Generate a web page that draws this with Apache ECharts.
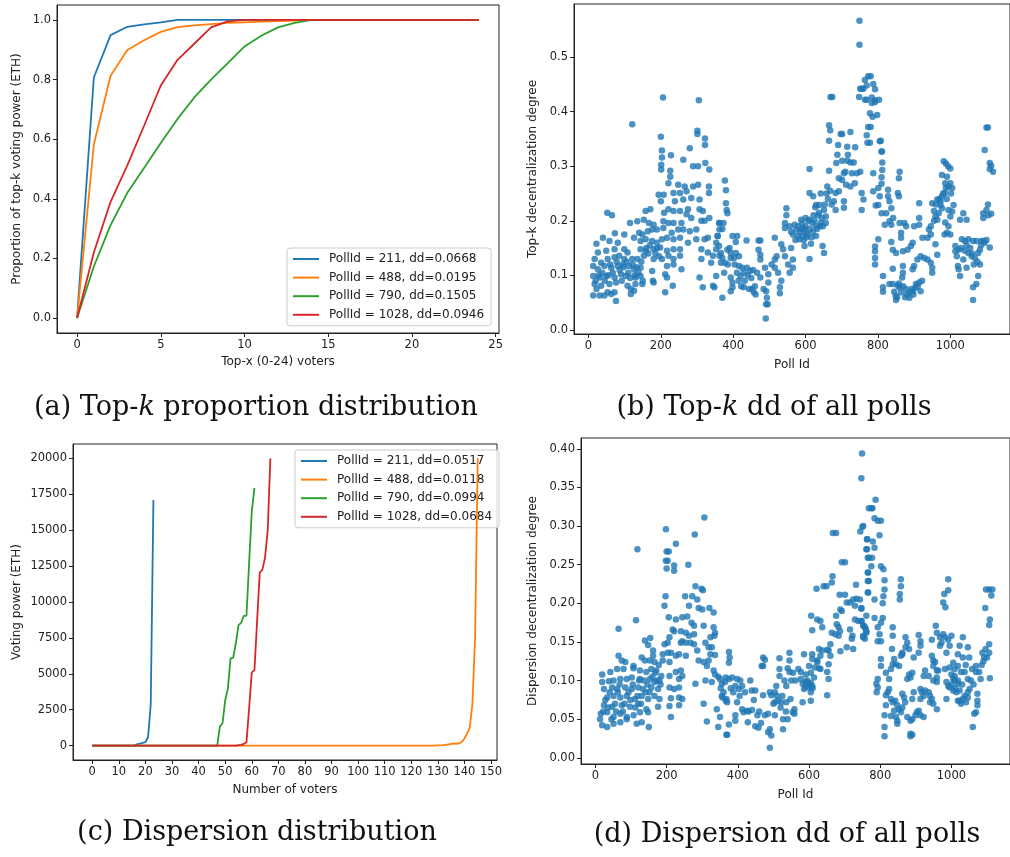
<!DOCTYPE html>
<html>
<head>
<meta charset="utf-8">
<script src="https://cdn.jsdelivr.net/npm/echarts@6/dist/echarts.min.js"></script>
<style>
  html, body { margin: 0; padding: 0; background: #fff; }
  #main { width: 1010px; height: 857px; }
</style>
</head>
<body>
<div id="main"></div>
<script>
const FONT = 'DejaVu Sans';
const COLORS = ['#1f77b4', '#ff7f0e', '#2ca02c', '#d62728'];

// (a) top-k cumulative proportion, x = 0..24
const topX = [0, 1, 2, 3, 4, 5, 6, 7, 8, 9, 10, 11, 12, 13, 14, 15, 16, 17, 18, 19, 20, 21, 22, 23, 24];
const topkBlue = [0, 0.807, 0.949, 0.977, 0.985, 0.992, 1, 1, 1, 1, 1, 1, 1, 1, 1, 1, 1, 1, 1, 1, 1, 1, 1, 1, 1];
const topkOrange = [0, 0.582, 0.813, 0.899, 0.932, 0.96, 0.976, 0.982, 0.986, 0.99, 0.992, 0.994, 0.996, 0.998, 1, 1, 1, 1, 1, 1, 1, 1, 1, 1, 1];
const topkGreen = [0, 0.173, 0.312, 0.42, 0.503, 0.587, 0.668, 0.74, 0.8, 0.855, 0.911, 0.947, 0.975, 0.99, 1, 1, 1, 1, 1, 1, 1, 1, 1, 1, 1];
const topkRed = [0, 0.22, 0.39, 0.512, 0.645, 0.78, 0.866, 0.92, 0.975, 0.995, 1, 1, 1, 1, 1, 1, 1, 1, 1, 1, 1, 1, 1, 1, 1];
const legendA = ['PollId = 211, dd=0.0668', 'PollId = 488, dd=0.0195', 'PollId = 790, dd=0.1505', 'PollId = 1028, dd=0.0946'];

// (c) sorted voting power, [voter index, ETH]
const dispBlue = [[0, 0], [16, 0], [17, 110], [18, 140], [19, 200], [20, 240], [21, 600], [22, 2900], [23, 17100]];
const dispOrange = [[0, 0], [128, 0], [132, 30], [134, 80], [135, 130], [138, 150], [139, 250], [140, 500], [141, 850], [142, 1250], [143, 2900], [144, 7500], [145, 20000]];
const dispGreen = [[0, 0], [47, 0], [48, 1330], [49, 1560], [50, 3150], [51, 3960], [52, 6060], [53, 6130], [54, 7110], [55, 8390], [56, 8550], [57, 9040], [58, 9040], [59, 12700], [60, 16300], [61, 17950]];
const dispRed = [[0, 0], [54, 0], [56, 50], [57, 120], [58, 230], [59, 2600], [60, 5100], [61, 5250], [62, 8650], [63, 12050], [64, 12250], [65, 13100], [66, 15000], [67, 20000]];
const legendC = ['PollId = 211, dd=0.0517', 'PollId = 488, dd=0.0118', 'PollId = 790, dd=0.0994', 'PollId = 1028, dd=0.0684'];

// (b) top-k dd per poll, [poll id, dd]
const topkPts = [
[206,0.426],[305,0.421],[121,0.377],[200,0.354],[301,0.365],[301,0.359],[322,0.351],[322,0.339],[280,0.333],[203,0.329],[203,0.316],[228,0.32],[262,0.312],[201,0.303],[201,0.294],[289,0.30],[303,0.30],[323,0.306],[226,0.292],[226,0.281],[334,0.294],[221,0.269],[248,0.266],[266,0.263],[289,0.263],[303,0.266],[333,0.263],[333,0.251],[194,0.248],[208,0.248],[200,0.236],[235,0.251],[253,0.251],[271,0.254],[284,0.242],[307,0.239],[239,0.236],[262,0.239],[52,0.215],[65,0.21],[158,0.218],[171,0.221],[209,0.215],[221,0.221],[235,0.218],[253,0.218],[275,0.221],[271,0.212],[307,0.221],[316,0.218],[334,0.205],[321,0.2],[312,0.2],[115,0.196],[135,0.199],[153,0.202],[167,0.196],[180,0.193],[207,0.199],[221,0.196],[235,0.196],[257,0.196],[284,0.205],[362,0.196],[362,0.184],[357,0.172],[353,0.16],[353,0.148],[362,0.136],[366,0.123],[73,0.177],[99,0.175],[140,0.178],[149,0.175],[164,0.181],[176,0.184],[189,0.184],[207,0.187],[230,0.178],[248,0.184],[262,0.184],[280,0.181],[298,0.184],[22,0.158],[40,0.169],[58,0.163],[81,0.16],[126,0.169],[144,0.163],[158,0.166],[176,0.163],[189,0.16],[203,0.166],[217,0.169],[235,0.166],[253,0.169],[275,0.16],[298,0.166],[321,0.166],[330,0.169],[26,0.142],[49,0.145],[72,0.148],[99,0.148],[108,0.142],[144,0.148],[158,0.145],[180,0.148],[198,0.151],[217,0.145],[235,0.148],[253,0.148],[312,0.148],[330,0.142],[344,0.136],[17,0.13],[35,0.123],[53,0.13],[72,0.133],[85,0.136],[99,0.13],[121,0.13],[135,0.13],[153,0.136],[180,0.13],[203,0.13],[221,0.136],[235,0.13],[253,0.136],[312,0.13],[339,0.123],[13,0.117],[26,0.111],[44,0.117],[63,0.114],[81,0.117],[94,0.12],[112,0.117],[126,0.111],[144,0.114],[176,0.108],[217,0.117],[235,0.12],[257,0.111],[13,0.099],[31,0.096],[49,0.099],[72,0.096],[90,0.102],[103,0.099],[130,0.096],[144,0.099],[178,0.09],[212,0.102],[217,0.096],[307,0.096],[353,0.099],[17,0.084],[35,0.081],[58,0.084],[76,0.087],[108,0.081],[130,0.084],[149,0.084],[180,0.087],[233,0.081],[22,0.075],[53,0.069],[72,0.069],[117,0.075],[126,0.072],[316,0.078],[344,0.081],[348,0.078],[13,0.063],[31,0.063],[44,0.063],[63,0.066],[117,0.066],[212,0.069],[76,0.053],
[20,0.09],[28,0.1],[38,0.105],[45,0.09],[55,0.1],[60,0.12],[67,0.105],[78,0.125],[86,0.11],[92,0.09],[97,0.115],[105,0.125],[110,0.105],[115,0.095],[122,0.12],[128,0.1],[133,0.115],[138,0.105],[146,0.125],[150,0.09],[160,0.15],[165,0.14],[170,0.155],[185,0.14],[190,0.15],[195,0.135],
[749,0.567],[749,0.523],[669,0.427],[674,0.427],[751,0.442],[760,0.442],[748,0.427],[764,0.422],[377,0.274],[380,0.256],[380,0.232],[382,0.22],[384,0.214],[361,0.196],[373,0.196],[370,0.185],[357,0.172],[361,0.154],[366,0.141],[370,0.132],[377,0.123],[375,0.105],[398,0.172],[411,0.172],[407,0.161],[437,0.164],[384,0.147],[393,0.141],[407,0.141],[416,0.135],[393,0.132],[402,0.132],[416,0.117],[425,0.114],[438,0.114],[447,0.108],[420,0.099],[429,0.105],[393,0.096],[398,0.087],[398,0.078],[393,0.071],[370,0.059],[429,0.078],[452,0.075],[457,0.069],[466,0.105],[475,0.096],[470,0.164],[475,0.164],[470,0.147],[475,0.138],[475,0.129],[484,0.075],[491,0.071],[493,0.059],[491,0.047],[495,0.047],[490,0.021],[488,0.114],[497,0.102],[497,0.087],[506,0.12],[515,0.129],[520,0.135],[515,0.114],[524,0.105],[533,0.09],[529,0.078],[529,0.067],[515,0.169],[533,0.157],[538,0.148],[543,0.135],[552,0.12],[556,0.105],[543,0.196],[543,0.187],[547,0.223],[547,0.21],[565,0.129],[565,0.114],[570,0.193],[574,0.184],[579,0.172],[583,0.166],[592,0.172],[601,0.178],[588,0.202],[600,0.205],[610,0.202],[619,0.196],[629,0.19],[642,0.196],[597,0.154],[615,0.158],[629,0.172],[647,0.154],[651,0.141],[611,0.13],[611,0.295],[611,0.251],[621,0.245],[629,0.229],[638,0.229],[642,0.25],[651,0.22],[656,0.208],[656,0.196],[660,0.263],[665,0.292],[665,0.375],[668,0.366],[665,0.347],[678,0.236],[683,0.251],[692,0.254],[706,0.236],[706,0.224],[683,0.22],[688,0.321],[685,0.306],[692,0.278],[701,0.275],[712,0.266],[724,0.263],[736,0.269],[697,0.359],[701,0.359],[690,0.339],[715,0.336],[717,0.321],[737,0.335],[701,0.31],[715,0.31],[724,0.307],[733,0.307],[710,0.29],[728,0.287],[742,0.287],[751,0.29],[724,0.363],[755,0.251],[760,0.239],[755,0.22],[706,0.287],[580,0.19],[590,0.185],[600,0.19],[605,0.175],[620,0.18],[625,0.2],[635,0.21],[640,0.19],[595,0.165],[560,0.15],
[385,0.12],[390,0.15],[404,0.12],[410,0.105],[415,0.09],[422,0.08],[432,0.09],[440,0.1],[444,0.075],[450,0.095],[455,0.11],[460,0.08],[462,0.065],
[556,0.19],[560,0.18],[565,0.175],[572,0.165],[585,0.18],[590,0.195],[596,0.185],[603,0.17],[608,0.2],[612,0.185],[617,0.17],[622,0.21],[627,0.225],[632,0.185],[637,0.215],[645,0.205],[648,0.19],[653,0.23],[658,0.25],[662,0.24],[668,0.255],[672,0.23],
[773,0.465],[780,0.465],[764,0.458],[769,0.448],[755,0.442],[787,0.451],[792,0.441],[769,0.422],[783,0.426],[792,0.421],[803,0.422],[783,0.416],[792,0.418],[778,0.397],[785,0.391],[798,0.394],[773,0.372],[780,0.372],[769,0.357],[771,0.343],[778,0.343],[805,0.346],[810,0.327],[812,0.307],[812,0.293],[810,0.28],[810,0.268],[787,0.287],[801,0.26],[787,0.254],[805,0.245],[794,0.228],[801,0.229],[828,0.257],[828,0.245],[832,0.236],[810,0.214],[823,0.214],[837,0.223],[842,0.205],[819,0.193],[832,0.199],[837,0.193],[860,0.29],[858,0.278],[855,0.251],[858,0.245],[860,0.196],[873,0.196],[864,0.178],[864,0.169],[801,0.166],[792,0.153],[792,0.144],[792,0.132],[792,0.12],[837,0.161],[841,0.147],[850,0.141],[869,0.144],[882,0.147],[891,0.154],[896,0.16],[878,0.19],[900,0.19],[914,0.193],[914,0.205],[914,0.232],[923,0.169],[937,0.169],[909,0.129],[918,0.135],[928,0.132],[937,0.129],[946,0.123],[950,0.114],[950,0.105],[896,0.111],[900,0.117],[869,0.117],[869,0.105],[867,0.096],[841,0.112],[814,0.099],[814,0.078],[814,0.07],[832,0.084],[841,0.084],[855,0.081],[849,0.062],[850,0.055],[860,0.078],[864,0.069],[878,0.075],[887,0.069],[887,0.059],[896,0.071],[905,0.084],[914,0.087],[918,0.071],[941,0.184],[946,0.19],[946,0.175],[959,0.157],[964,0.138],[959,0.208],[968,0.214],[977,0.223],[973,0.229],[950,0.232],[955,0.218],[964,0.239],[977,0.245],[985,0.251],[988,0.26],[995,0.263],[1005,0.26],[982,0.309],[988,0.305],[1000,0.296],[977,0.284],[991,0.281],[986,0.269],[1000,0.269],[973,0.236],[995,0.22],[1005,0.217],[1009,0.229],[1000,0.208],[964,0.202],[986,0.197],[995,0.19],[991,0.178],[1000,0.175],[984,0.175],[1014,0.154],[1014,0.144],[1023,0.147],[1018,0.135],[1021,0.117],[1027,0.099],[1027,0.202],[1036,0.214],[1045,0.202],[1032,0.166],[1041,0.163],[1050,0.166],[1063,0.163],[1072,0.163],[1086,0.163],[1091,0.163],[1036,0.129],[1050,0.141],[1059,0.135],[1068,0.132],[1077,0.141],[1082,0.147],[1045,0.114],[1023,0.111],[1082,0.12],[1077,0.099],[1072,0.084],[1063,0.078],[1063,0.055],[1109,0.151],[1100,0.371],[1104,0.371],[1095,0.33],[1109,0.306],[1113,0.301],[1109,0.295],[1118,0.29],[1104,0.23],[1100,0.22],[1091,0.214],[1091,0.205],[1113,0.213],[808,0.347],[811,0.327],
[845,0.07],[853,0.06],[858,0.085],[870,0.08],[875,0.06],[880,0.065],[893,0.075],[898,0.065],[903,0.077],[910,0.08],[922,0.09],
[955,0.2],[960,0.23],[970,0.24],[980,0.25],[990,0.24],[994,0.3],[1002,0.25],
[1030,0.15],[1040,0.145],[1045,0.155],[1055,0.15],[1060,0.14],[1065,0.12],[1075,0.125],[1085,0.155],[1095,0.16],[1100,0.165],[1105,0.21]
];

// (d) dispersion dd per poll, [poll id, dd]
const dispPts = [
[306,0.311],[198,0.296],[279,0.289],[226,0.277],[118,0.27],[200,0.267],[206,0.267],[198,0.255],[203,0.255],[221,0.249],[261,0.25],[200,0.245],[221,0.242],[281,0.222],[298,0.219],[302,0.217],[197,0.209],[194,0.197],[252,0.209],[272,0.209],[286,0.205],[263,0.197],[290,0.194],[300,0.192],[320,0.194],[332,0.188],[206,0.182],[226,0.179],[244,0.182],[258,0.183],[270,0.175],[277,0.171],[304,0.171],[332,0.169],[336,0.162],[323,0.156],[334,0.158],[65,0.167],[114,0.178],[217,0.166],[221,0.164],[240,0.164],[254,0.162],[263,0.158],[277,0.16],[139,0.152],[154,0.155],[148,0.146],[194,0.147],[203,0.149],[208,0.156],[240,0.149],[244,0.151],[254,0.149],[267,0.149],[277,0.147],[309,0.149],[318,0.143],[327,0.143],[323,0.134],[336,0.133],[162,0.139],[162,0.132],[189,0.134],[203,0.136],[212,0.136],[286,0.139],[65,0.132],[74,0.126],[84,0.124],[107,0.119],[130,0.13],[139,0.126],[153,0.126],[166,0.124],[189,0.126],[208,0.124],[226,0.132],[235,0.134],[254,0.132],[290,0.126],[304,0.124],[318,0.126],[313,0.119],[332,0.113],[336,0.108],[61,0.115],[79,0.115],[107,0.116],[125,0.113],[143,0.111],[157,0.115],[171,0.113],[185,0.106],[208,0.106],[226,0.111],[240,0.113],[244,0.106],[235,0.102],[19,0.108],[42,0.111],[19,0.098],[38,0.099],[51,0.1],[70,0.102],[88,0.102],[102,0.104],[125,0.102],[153,0.102],[166,0.098],[180,0.1],[208,0.091],[221,0.089],[235,0.091],[281,0.096],[309,0.1],[327,0.098],[350,0.102],[355,0.096],[364,0.098],[24,0.089],[47,0.091],[61,0.089],[84,0.091],[102,0.089],[120,0.091],[134,0.089],[157,0.091],[176,0.089],[33,0.078],[51,0.08],[70,0.078],[88,0.08],[111,0.076],[130,0.08],[148,0.076],[166,0.08],[180,0.076],[212,0.077],[235,0.078],[244,0.076],[355,0.08],[368,0.076],[24,0.068],[47,0.066],[74,0.068],[97,0.066],[120,0.07],[143,0.063],[176,0.066],[208,0.067],[235,0.068],[304,0.07],[15,0.057],[33,0.059],[51,0.053],[70,0.057],[88,0.053],[107,0.055],[125,0.059],[148,0.059],[212,0.053],[341,0.063],[350,0.053],[13,0.05],[19,0.042],[33,0.04],[51,0.044],[70,0.046],[88,0.05],[116,0.044],[130,0.046],[150,0.04],[313,0.047],[345,0.04],[368,0.03],
[22,0.06],[28,0.075],[36,0.065],[40,0.085],[45,0.05],[55,0.07],[58,0.06],[63,0.085],[68,0.095],[77,0.06],[82,0.07],[93,0.085],[98,0.075],[105,0.095],[112,0.065],[118,0.08],[123,0.1],[128,0.07],[137,0.1],[141,0.085],[146,0.095],[152,0.085],[160,0.105],[168,0.11],[173,0.1],[178,0.12],[183,0.095],
[345,0.105],[352,0.09],[360,0.085],[380,0.09],[387,0.085],[405,0.08],[420,0.085],[430,0.06],[440,0.062],[445,0.075],[455,0.055],[460,0.06],[465,0.045],
[500,0.07],[510,0.08],[520,0.065],[525,0.08],[535,0.06],[540,0.05],[550,0.1],[555,0.11],[562,0.1],
[749,0.394],[747,0.362],[768,0.323],[750,0.299],[744,0.293],[667,0.291],[676,0.291],[763,0.283],[761,0.27],[765,0.259],[692,0.253],[701,0.253],[666,0.235],[664,0.227],[621,0.219],[641,0.222],[649,0.222],[732,0.224],[765,0.24],[765,0.229],[765,0.214],[686,0.211],[701,0.211],[706,0.201],[715,0.201],[724,0.205],[733,0.206],[729,0.197],[747,0.194],[688,0.192],[692,0.19],[676,0.184],[606,0.184],[623,0.179],[632,0.177],[637,0.169],[609,0.165],[678,0.173],[683,0.169],[664,0.162],[674,0.16],[683,0.158],[687,0.164],[715,0.166],[729,0.179],[738,0.177],[747,0.177],[754,0.171],[759,0.167],[761,0.162],[752,0.156],[722,0.158],[720,0.154],[706,0.143],[688,0.138],[724,0.141],[609,0.134],[628,0.141],[637,0.139],[655,0.139],[660,0.132],[586,0.134],[609,0.128],[623,0.126],[632,0.132],[545,0.136],[545,0.126],[517,0.129],[471,0.13],[476,0.127],[375,0.137],[377,0.13],[375,0.123],[467,0.119],[471,0.119],[540,0.116],[545,0.111],[570,0.115],[577,0.111],[517,0.115],[517,0.106],[600,0.119],[616,0.117],[628,0.116],[632,0.115],[655,0.121],[651,0.111],[655,0.102],[531,0.1],[536,0.093],[508,0.093],[504,0.085],[494,0.081],[490,0.085],[577,0.102],[591,0.098],[600,0.091],[609,0.093],[586,0.089],[605,0.085],[582,0.096],[366,0.104],[375,0.102],[384,0.104],[398,0.102],[407,0.1],[393,0.093],[403,0.089],[412,0.093],[435,0.1],[439,0.087],[449,0.087],[471,0.081],[357,0.078],[366,0.074],[398,0.072],[370,0.072],[504,0.072],[513,0.074],[522,0.072],[536,0.072],[605,0.074],[582,0.072],[651,0.081],[412,0.063],[426,0.061],[416,0.059],[554,0.059],[559,0.057],[393,0.055],[393,0.048],[476,0.055],[485,0.057],[504,0.055],[527,0.05],[449,0.041],[458,0.039],[490,0.037],[485,0.033],[527,0.037],[494,0.029],[375,0.043],[428,0.046],[370,0.03],[490,0.013],[623,0.124],[605,0.11],[614,0.104],[591,0.108],[660,0.147],[651,0.14],[548,0.076],[559,0.063],[595,0.1],[600,0.095],[605,0.097],[590,0.092],[610,0.09],
[787,0.334],[775,0.323],[778,0.323],[784,0.31],[793,0.307],[802,0.307],[752,0.3],[798,0.288],[763,0.283],[779,0.28],[784,0.272],[763,0.27],[768,0.259],[777,0.259],[775,0.248],[802,0.248],[809,0.244],[766,0.24],[812,0.23],[812,0.218],[809,0.209],[807,0.2],[768,0.229],[766,0.214],[784,0.205],[858,0.231],[858,0.222],[855,0.212],[855,0.205],[743,0.205],[747,0.193],[761,0.184],[784,0.181],[807,0.181],[802,0.175],[991,0.231],[991,0.217],[980,0.212],[977,0.201],[983,0.195],[1097,0.218],[1106,0.218],[1115,0.218],[1112,0.21],[1095,0.194],[1108,0.179],[1106,0.172],[747,0.177],[752,0.171],[757,0.169],[761,0.164],[752,0.158],[757,0.154],[793,0.169],[798,0.16],[793,0.151],[802,0.151],[835,0.169],[835,0.158],[833,0.141],[839,0.128],[835,0.121],[830,0.115],[844,0.121],[853,0.119],[862,0.136],[802,0.128],[802,0.119],[816,0.11],[871,0.156],[876,0.149],[871,0.143],[881,0.141],[862,0.134],[858,0.132],[908,0.159],[913,0.151],[913,0.145],[908,0.136],[894,0.13],[881,0.108],[890,0.11],[885,0.104],[876,0.102],[926,0.113],[922,0.106],[936,0.106],[959,0.113],[959,0.104],[959,0.098],[945,0.153],[959,0.162],[956,0.171],[968,0.156],[977,0.16],[982,0.156],[991,0.153],[995,0.145],[986,0.136],[1000,0.158],[945,0.132],[949,0.126],[954,0.124],[968,0.145],[972,0.149],[1005,0.123],[1009,0.115],[1018,0.119],[1009,0.106],[1009,0.1],[1018,0.096],[991,0.093],[995,0.091],[1027,0.111],[1037,0.111],[1046,0.102],[1055,0.1],[1023,0.145],[1018,0.134],[1032,0.156],[1046,0.143],[1032,0.13],[1023,0.087],[1023,0.074],[1027,0.07],[1037,0.08],[1041,0.072],[1069,0.119],[1069,0.111],[1078,0.111],[1082,0.102],[1087,0.136],[1092,0.13],[1096,0.141],[1106,0.136],[1106,0.147],[1073,0.083],[1073,0.074],[1073,0.068],[1069,0.059],[1064,0.057],[1060,0.04],[1108,0.103],[793,0.102],[789,0.096],[793,0.091],[790,0.085],[825,0.102],[825,0.089],[821,0.085],[816,0.081],[830,0.076],[816,0.068],[835,0.072],[842,0.074],[848,0.068],[853,0.063],[858,0.059],[839,0.061],[862,0.083],[867,0.078],[870,0.072],[862,0.065],[844,0.053],[848,0.048],[848,0.044],[830,0.054],[812,0.055],[812,0.04],[812,0.028],[876,0.053],[885,0.048],[890,0.05],[899,0.055],[903,0.059],[908,0.061],[913,0.055],[922,0.053],[885,0.031],[885,0.028],[890,0.03],[913,0.089],[917,0.085],[926,0.087],[936,0.085],[940,0.08],[945,0.076],[940,0.072],[949,0.07],[959,0.063],[894,0.085],[890,0.076],[913,0.076],[922,0.08],[949,0.119],[963,0.113],[949,0.1],[986,0.098],[1000,0.108],[1005,0.102],[986,0.076],[1005,0.087],[1014,0.085],[1018,0.074],[1032,0.076],[1046,0.078],[1046,0.085],[1051,0.089],[982,0.115],[995,0.117],[1018,0.1],
[1000,0.095],[1010,0.09],[1030,0.095],[1040,0.12],[1050,0.13],[1058,0.115],[1062,0.095],[1085,0.12],[1090,0.125],[1100,0.13]
];

// tick values
const ticksAx = [0, 5, 10, 15, 20, 25];
const ticksAy = [0, 0.2, 0.4, 0.6, 0.8, 1.0];
const ticksPollX = [0, 200, 400, 600, 800, 1000];
const ticksBy = [0, 0.1, 0.2, 0.3, 0.4, 0.5];
const ticksCx = [0, 10, 20, 30, 40, 50, 60, 70, 80, 90, 100, 110, 120, 130, 140, 150];
const ticksCy = [0, 2500, 5000, 7500, 10000, 12500, 15000, 17500, 20000];
const ticksDy = [0, 0.05, 0.1, 0.15, 0.2, 0.25, 0.3, 0.35, 0.4];

function axis(gridIndex, min, max, ticks, fmt, name, nameGap) {
    return {
        type: 'value', gridIndex: gridIndex, min: min, max: max,
        name: name, nameLocation: 'middle', nameGap: nameGap,
        nameTextStyle: { fontSize: 12, color: '#222', fontFamily: FONT },
        axisLine: { show: true, onZero: false, lineStyle: { color: '#222', width: 1 } },
        axisTick: { show: true, length: 4, customValues: ticks, lineStyle: { color: '#222', width: 1 } },
        axisLabel: { customValues: ticks, formatter: fmt, fontSize: 11.5, color: '#222', fontFamily: FONT, margin: 6 },
        splitLine: { show: false }
    };
}

function lineSeries(name, data, i, axisIdx) {
    return {
        name: name, type: 'line', data: data,
        xAxisIndex: axisIdx, yAxisIndex: axisIdx,
        symbol: 'none', showSymbol: false,
        lineStyle: { color: COLORS[i], width: 1.8 },
        itemStyle: { color: COLORS[i] },
        z: 3 + i
    };
}

function legend(names, left, top) {
    return {
        data: names, orient: 'vertical', left: left, top: top,
        itemWidth: 26, itemHeight: 12, itemGap: 6.6,
        padding: [5, 7, 5, 5],
        itemStyle: { opacity: 0 },
        backgroundColor: 'rgba(255,255,255,0.8)',
        borderColor: '#ccc', borderWidth: 1, borderRadius: 3,
        textStyle: { fontSize: 12, color: '#222', fontFamily: FONT, padding: [0, 0, 0, 5] }
    };
}

function caption(text, x, y) {
    return {
        type: 'text', x: x, y: y, z: 10,
        style: {
            text: text, textAlign: 'center', textVerticalAlign: 'middle',
            align: 'center', verticalAlign: 'middle',
            fontSize: 27, fontFamily: 'DejaVu Serif', fill: '#111',
            rich: { k: { fontSize: 27, fontFamily: 'DejaVu Serif', fontStyle: 'italic', fill: '#111' } }
        }
    };
}

const gridStyle = { show: true, borderColor: '#222', borderWidth: 1, backgroundColor: 'transparent' };
const f1 = v => v.toFixed(1);
const f2 = v => v.toFixed(2);
const f0 = v => String(v);

const chart = echarts.init(document.getElementById('main'), null, { renderer: 'canvas' });
chart.setOption({
    animation: false,
    backgroundColor: '#fff',
    textStyle: { fontFamily: FONT },
    grid: [
        Object.assign({ left: 57, top: 5, width: 442, height: 328 }, gridStyle),
        Object.assign({ left: 574, top: 4, width: 443, height: 330 }, gridStyle),
        Object.assign({ left: 73, top: 444, width: 424, height: 316 }, gridStyle),
        Object.assign({ left: 581, top: 438, width: 437, height: 326 }, gridStyle)
    ],
    xAxis: [
        axis(0, -1.2, 25.2, ticksAx, f0, 'Top-x (0-24) voters', 23),
        axis(1, -40, 1165, ticksPollX, f0, 'Poll Id', 25),
        axis(2, -7.25, 152.25, ticksCx, f0, 'Number of voters', 24),
        axis(3, -40.5, 1164.5, ticksPollX, f0, 'Poll Id', 25)
    ],
    yAxis: [
        axis(0, -0.05, 1.05, ticksAy, f1, 'Proportion of top-k voting power (ETH)', 34),
        axis(1, -0.0075, 0.5975, ticksBy, f1, 'Top-k decentralization degree', 35),
        axis(2, -1000, 21000, ticksCy, f0, 'Voting power (ETH)', 50),
        axis(3, -0.008, 0.414, ticksDy, f2, 'Dispersion decentralization degree', 42)
    ],
    legend: [legend(legendA, 287, 248), legend(legendC, 295, 450)],
    series: [
        lineSeries(legendA[0], topX.map((x, i) => [x, topkBlue[i]]), 0, 0),
        lineSeries(legendA[1], topX.map((x, i) => [x, topkOrange[i]]), 1, 0),
        lineSeries(legendA[2], topX.map((x, i) => [x, topkGreen[i]]), 2, 0),
        lineSeries(legendA[3], topX.map((x, i) => [x, topkRed[i]]), 3, 0),
        {
            type: 'scatter', data: topkPts, xAxisIndex: 1, yAxisIndex: 1,
            symbolSize: 6.5, itemStyle: { color: '#1f77b4', opacity: 0.8 }
        },
        lineSeries(legendC[0], dispBlue, 0, 2),
        lineSeries(legendC[1], dispOrange, 1, 2),
        lineSeries(legendC[2], dispGreen, 2, 2),
        lineSeries(legendC[3], dispRed, 3, 2),
        {
            type: 'scatter', data: dispPts, xAxisIndex: 3, yAxisIndex: 3,
            symbolSize: 6.5, itemStyle: { color: '#1f77b4', opacity: 0.8 }
        }
    ],
    graphic: [
        caption('(a) Top-{k|k} proportion distribution', 256, 408),
        caption('(b) Top-{k|k} dd of all polls', 774, 408),
        caption('(c) Dispersion distribution', 257, 833),
        caption('(d) Dispersion dd of all polls', 787, 835)
    ]
});
</script>
</body>
</html>
